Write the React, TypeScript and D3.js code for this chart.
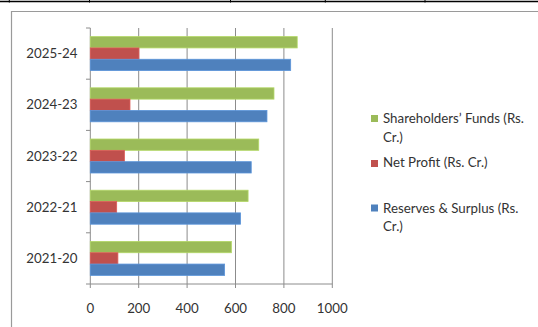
import React from "react";
import * as d3 from "d3";

const categories = ["2021-20", "2022-21", "2023-22", "2024-23", "2025-24"];
const shareholdersFunds = [583, 652, 696, 759, 855];
const netProfit = [114, 109, 141, 164, 201];
const reservesSurplus = [555, 621, 665, 730, 828];
const seriesNames = ["Shareholders’ Funds (Rs. Cr.)", "Net Profit (Rs. Cr.)", "Reserves & Surplus (Rs. Cr.)"];
const seriesColors = ["#9BBB59", "#C0504D", "#4F81BD"];
const xTicks = [0, 200, 400, 600, 800, 1000];
const legendLines = [["Shareholders’ Funds (Rs.", "Cr.)"], ["Net Profit (Rs. Cr.)"], ["Reserves & Surplus (Rs.", "Cr.)"]];

const FONT = "Lato, 'Open Sans', sans-serif";
const TEXT = "#333333";
const GRID = "#8c8c8c";

export default function App() {
  const x = d3.scaleLinear().domain([0, 1000]).range([90.3, 332.3]);
  const y = d3
    .scaleBand<string>()
    .domain([...categories].reverse())
    .range([28, 284])
    .paddingInner(0.336)
    .paddingOuter(0.168);
  const inner = d3.scaleBand<string>().domain(["0", "1", "2"]).range([0, y.bandwidth()]);
  const seriesData = [shareholdersFunds, netProfit, reservesSurplus];
  const step = y.step();
  const boundaries = d3.range(categories.length + 1).map((i) => 28 + i * step);
  const legendY = [[123, 141.5], [167], [212.5, 231]];
  const squareY = [115, 160, 204.5];

  return (
    <div style={{ position: "absolute", left: 0, top: 0 }}>
      <svg width={538} height={327} style={{ display: "block" }}>
        <rect x={0} y={0} width={538} height={327} fill="#fff" />
        {/* table lines at top */}
        <line x1={0} x2={538} y1={1.5} y2={1.5} stroke="#000" strokeWidth={1.5} />
        {[9.3, 89.5, 230.5, 325.3, 425].map((vx, i) => (
          <line key={i} x1={vx} x2={vx} y1={0} y2={2.5} stroke="#000" strokeWidth={1} />
        ))}
        {/* chart frame */}
        <path d="M11.5,340 V11.5 H560" fill="none" stroke="#9a9a9a" strokeWidth={1.2} />
        {/* gridlines */}
        {xTicks.map((t) => (
          <line key={t} x1={x(t)} x2={x(t)} y1={28} y2={288} stroke={GRID} strokeWidth={1} />
        ))}
        {/* category ticks */}
        {boundaries.map((b, i) => (
          <line key={i} x1={86} x2={90.3} y1={b} y2={b} stroke={GRID} strokeWidth={1} />
        ))}
        <line x1={90.3} x2={332.3} y1={284} y2={284} stroke={GRID} strokeWidth={1} />
        {/* bars */}
        {categories.map((c, ci) =>
          seriesData.map((s, si) => {
            const y0 = (y(c) as number) + (inner(String(si)) as number);
            const h = inner.bandwidth();
            const col = seriesColors[si];
            return (
              <rect
                key={c + si}
                x={x(0)}
                y={y0}
                width={x(s[ci]) - x(0)}
                height={h}
                fill={col}
                stroke={d3.color(col)!.brighter(0.4).formatHex()}
                strokeWidth={0.8}
              />
            );
          })
        )}
        {/* category labels */}
        {categories.map((c) => (
          <text
            key={c}
            x={77.5}
            y={(y(c) as number) + y.bandwidth() / 2}
            dy="0.35em"
            textAnchor="end"
            fontFamily={FONT}
            fontSize={13.3}
            fill={TEXT}
          >
            {c}
          </text>
        ))}
        {/* x tick labels */}
        {xTicks.map((t) => (
          <text
            key={t}
            x={x(t)}
            y={308}
            dy="0.35em"
            textAnchor="middle"
            fontFamily={FONT}
            fontSize={13.3}
            fill={TEXT}
          >
            {t}
          </text>
        ))}
        {/* legend */}
        {seriesNames.map((n, i) => (
          <g key={n}>
            <rect x={371} y={squareY[i]} width={7} height={7} fill={seriesColors[i]} />
            {legendLines[i].map((ln, li) => (
              <text key={li} x={383} y={legendY[i][li]} fontFamily={FONT} fontSize={13.3} fill={TEXT}>
                {ln}
              </text>
            ))}
          </g>
        ))}
      </svg>
    </div>
  );
}
